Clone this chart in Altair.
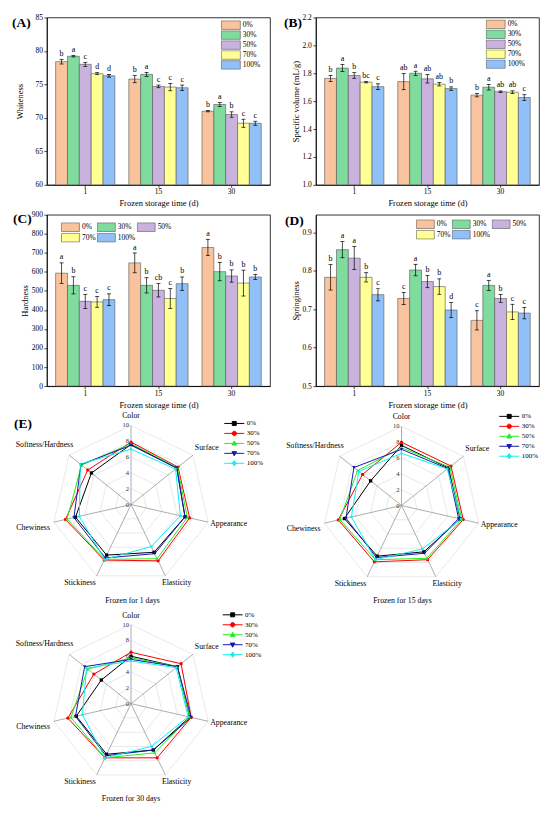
import altair as alt
import pandas as pd

SERIF = "Liberation Serif"

# ---------------- bar chart data ----------------
days = ["1", "15", "30"]
groups = ["0%", "30%", "50%", "70%", "100%"]
bar_colors = ["#F9C39E", "#80DB9F", "#C9B3DE", "#FFFF94", "#90C0F7"]

whiteness_mean = [[78.4, 79.2, 78.0, 76.6, 76.3],
                  [75.8, 76.5, 74.7, 74.6, 74.5],
                  [71.0, 72.0, 70.5, 69.2, 69.2]]
whiteness_err = [[0.35, 0.1, 0.3, 0.15, 0.2],
                 [0.55, 0.3, 0.2, 0.55, 0.4],
                 [0.1, 0.3, 0.4, 0.6, 0.3]]
whiteness_sig = [["b", "a", "c", "d", "d"],
                 ["b", "a", "c", "c", "c"],
                 ["b", "a", "b", "c", "c"]]

volume_mean = [[1.763, 1.837, 1.784, 1.736, 1.704],
               [1.740, 1.800, 1.760, 1.722, 1.690],
               [1.643, 1.700, 1.668, 1.664, 1.626]]
volume_err = [[0.022, 0.025, 0.020, 0.005, 0.020],
              [0.058, 0.015, 0.030, 0.013, 0.012],
              [0.012, 0.020, 0.005, 0.010, 0.020]]
volume_sig = [["b", "a", "b", "bc", "c"],
              ["ab", "a", "ab", "ab", "b"],
              ["b", "a", "ab", "ab", "c"]]

hardness_mean = [[593, 529, 445, 442, 454],
                 [647, 529, 503, 460, 538],
                 [728, 601, 578, 541, 573]]
hardness_err = [[54, 45, 37, 28, 30],
                [52, 40, 35, 52, 35],
                [43, 48, 32, 68, 14]]
hardness_sig = [["a", "b", "c", "c", "c"],
                ["a", "b", "cb", "c", "b"],
                ["a", "b", "b", "b", "b"]]

spring_mean = [[0.783, 0.855, 0.833, 0.783, 0.738],
               [0.728, 0.802, 0.772, 0.759, 0.698],
               [0.671, 0.762, 0.728, 0.693, 0.690]]
spring_err = [[0.033, 0.021, 0.030, 0.012, 0.016],
              [0.016, 0.015, 0.016, 0.020, 0.020],
              [0.025, 0.013, 0.010, 0.020, 0.015]]
spring_sig = [["b", "a", "a", "b", "c"],
              ["c", "a", "b", "b", "d"],
              ["c", "a", "b", "c", "c"]]

# ---------------- radar data ----------------
attrs = ["Color", "Surface", "Appearance", "Elasticity", "Stickiness",
         "Chewiness", "Softness/Hardness"]
# rows: 0%, 30%, 50%, 70%, 100%
radar_day1 = [[7.6, 7.4, 7.0, 6.7, 7.1, 7.2, 6.4],
              [7.9, 7.6, 7.6, 7.9, 7.8, 8.5, 7.0],
              [7.7, 7.5, 7.3, 7.6, 7.7, 8.3, 8.0],
              [7.5, 7.4, 7.0, 6.9, 7.5, 7.4, 8.1],
              [7.0, 7.2, 6.4, 5.9, 7.7, 6.7, 8.2]]
radar_day15 = [[7.6, 7.6, 7.6, 6.5, 7.1, 7.4, 5.0],
               [8.0, 8.0, 8.0, 7.6, 7.9, 8.2, 6.3],
               [7.3, 7.8, 7.8, 7.4, 7.6, 8.0, 7.1],
               [7.1, 7.5, 7.4, 6.7, 7.3, 7.2, 7.7],
               [6.6, 7.4, 7.7, 6.1, 7.6, 6.5, 6.9]]
radar_day30 = [[6.0, 7.5, 7.6, 6.5, 7.1, 7.1, 4.8],
               [6.5, 8.1, 7.8, 7.6, 7.6, 8.2, 6.0],
               [5.8, 7.5, 7.6, 6.9, 7.6, 7.8, 7.0],
               [5.6, 7.5, 7.8, 6.5, 7.3, 7.2, 7.5],
               [5.4, 7.3, 7.4, 6.0, 7.6, 6.3, 7.2]]
radar_colors = ["#000000", "#FF0000", "#22EE22", "#1A1AB0", "#11EEEE"]
radar_shapes = ["square", "circle", "triangle-up", "triangle-down", "diamond"]
legend_paths = [
    "M-1,0H1M-0.2,-0.2H0.2V0.2H-0.2Z",
    "M-1,0H1M0.22,0A0.22,0.22 0 1,1 -0.22,0A0.22,0.22 0 1,1 0.22,0Z",
    "M-1,0H1M0,-0.25L0.23,0.17H-0.23Z",
    "M-1,0H1M0,0.25L0.23,-0.17H-0.23Z",
    "M-1,0H1M0,-0.26L0.2,0L0,0.26L-0.2,0Z",
]
ring_levels = [2, 4, 6, 8, 10]
radar_ticks = [0, 2, 4, 6, 8, 10]
label_align = ["center", "left", "left", "left", "right", "right", "right"]
label_dx = [0, 2, 2, -3.4, -1, -4, 4]
label_dy = [-9, -7, 2, 7.5, 7.5, 6, -10.3]

# ---------------- layout constants ----------------
W = 224
K = 7.94  # px per radar unit


def bar_frame(mean, err, sig):
    rows = []
    for i, d in enumerate(days):
        for j, g in enumerate(groups):
            rows.append(dict(day=d, group=g, mean=mean[i][j],
                             lo=mean[i][j] - err[i][j], hi=mean[i][j] + err[i][j],
                             sig=sig[i][j]))
    return pd.DataFrame(rows)


def bar_legend(lx, ly, columns, sym_w, half_h, clip_h):
    return alt.Legend(title=None, orient="none", legendX=lx, legendY=ly,
                      direction="horizontal" if columns > 1 else "vertical",
                      columns=columns,
                      symbolType=f"M-1,-{half_h}H1V{half_h}H-1Z",
                      symbolSize=sym_w * sym_w, clipHeight=clip_h,
                      symbolStrokeColor="#555555", symbolStrokeWidth=0.6,
                      labelFontSize=7.5, labelFont=SERIF, labelColor="black",
                      labelOffset=2, rowPadding=0, columnPadding=1, padding=0)


def bar_panel(df, domain, ticks, fmt, ytitle, tpad, height, legend, tag, tag_x, tag_y):
    yscale = alt.Scale(domain=domain, nice=False, zero=False)
    yaxis = alt.Axis(values=ticks, format=fmt, title=ytitle, titlePadding=tpad,
                     labelFontSize=7.5, titleFontSize=8.5, tickSize=3, tickWidth=0.7,
                     domainWidth=0.8, labelPadding=1.5, labelOverlap=False)
    base = alt.Chart(df).encode(
        x=alt.X("day:N", sort=days,
                scale=alt.Scale(paddingInner=0.19, paddingOuter=0.12),
                axis=alt.Axis(title="Frozen storage time (d)", labelAngle=0,
                              labelFontSize=7.5, titleFontSize=8.5, tickSize=2.5,
                              tickWidth=0.7, domainWidth=0.8, labelPadding=0.5,
                              titlePadding=3.5)),
        xOffset=alt.XOffset("group:N", sort=groups,
                            scale=alt.Scale(domain=groups, paddingInner=0, paddingOuter=0)),
    )
    bars = base.mark_bar(stroke="#555555", strokeWidth=0.6).encode(
        y=alt.Y("mean:Q", scale=yscale, axis=yaxis),
        y2=alt.datum(domain[0]),
        color=alt.Color("group:N", scale=alt.Scale(domain=groups, range=bar_colors),
                        legend=legend),
    )
    whisker = base.mark_rule(color="black", strokeWidth=0.7).encode(
        y=alt.Y("lo:Q", axis=yaxis), y2="hi:Q")
    cap_hi = base.mark_tick(orient="horizontal", size=4, thickness=0.7,
                            color="black", opacity=1).encode(y=alt.Y("hi:Q", axis=yaxis))
    cap_lo = base.mark_tick(orient="horizontal", size=4, thickness=0.7,
                            color="black", opacity=1).encode(y=alt.Y("lo:Q", axis=yaxis))
    letters = base.mark_text(baseline="bottom", dy=-1.5, fontSize=8, font=SERIF,
                             color="black").encode(y=alt.Y("hi:Q", axis=yaxis),
                                                   text="sig:N")
    tagc = alt.Chart(pd.DataFrame({"t": [tag]})).mark_text(
        align="left", baseline="middle", fontSize=13.5, fontWeight="bold",
        font=SERIF, color="black").encode(x=alt.value(tag_x), y=alt.value(tag_y), text="t:N")
    return alt.layer(bars, whisker, cap_hi, cap_lo, letters, tagc).properties(
        width=W, height=height)


rings_df = pd.DataFrame([{"r": r, "idx": i} for r in ring_levels for i in range(len(attrs))])
spokes_df = pd.DataFrame({"idx": list(range(len(attrs)))})
ticks_df = pd.DataFrame({"t": radar_ticks})
labels_df = pd.DataFrame({"attr": attrs, "idx": list(range(len(attrs))),
                          "align": label_align, "dx": label_dx, "dy": label_dy})


def radar_frame(vals):
    rows = []
    for gi, g in enumerate(groups):
        for ai, a in enumerate(attrs):
            rows.append({"group": g, "idx": ai, "attr": a, "value": vals[gi][ai]})
    return pd.DataFrame(rows)


def radar_panel(vals, xdom, ydom, height, leg_x, leg_y, title, title_x, title_y, tag=None):
    df = radar_frame(vals)
    xs = alt.Scale(domain=xdom, nice=False, zero=False)
    ys = alt.Scale(domain=ydom, nice=False, zero=False)
    ang = "(datum.idx * 2 * PI / 7)"
    X = lambda f: alt.X(f, scale=xs, axis=None)
    Y = lambda f: alt.Y(f, scale=ys, axis=None)

    rings = alt.Chart(rings_df).transform_calculate(
        px=f"datum.r * sin{ang}", py=f"datum.r * cos{ang}"
    ).mark_line(interpolate="linear-closed", color="#DADADA", strokeWidth=0.6).encode(
        x=X("px:Q"), y=Y("py:Q"), detail="r:N", order="idx:Q")
    spokes = alt.Chart(spokes_df).transform_calculate(
        x0="0", y0="0", x1=f"10 * sin{ang}", y1=f"10 * cos{ang}"
    ).mark_rule(color="#777777", strokeWidth=0.6).encode(
        x=X("x0:Q"), y=Y("y0:Q"), x2="x1:Q", y2="y1:Q")
    tick_text = alt.Chart(ticks_df).transform_calculate(x0="0").mark_text(
        align="right", baseline="middle", dx=-2, fontSize=6.5, color="#333333", font=SERIF
    ).encode(x=X("x0:Q"), y=Y("t:Q"), text="t:Q")

    data = alt.Chart(df).transform_calculate(
        px=f"datum.value * sin{ang}", py=f"datum.value * cos{ang}")
    cscale = alt.Scale(domain=groups, range=radar_colors)
    lines = data.mark_line(interpolate="linear-closed", strokeWidth=1).encode(
        x=X("px:Q"), y=Y("py:Q"),
        color=alt.Color("group:N", scale=cscale, legend=None), order="idx:Q")
    points = data.mark_point(filled=True, size=11, opacity=1).encode(
        x=X("px:Q"), y=Y("py:Q"),
        color=alt.Color("group:N", scale=cscale, legend=None),
        shape=alt.Shape("group:N", scale=alt.Scale(domain=groups, range=radar_shapes),
                        legend=None))

    lab = alt.Chart(labels_df).transform_calculate(
        lx=f"10 * sin{ang} + datum.dx / {K}", ly=f"10 * cos{ang} - datum.dy / {K}")
    label_layers = []
    for al in ["left", "center", "right"]:
        label_layers.append(
            lab.transform_filter(f"datum.align == '{al}'").mark_text(
                align=al, baseline="middle", fontSize=7.8, font=SERIF, color="black"
            ).encode(x=X("lx:Q"), y=Y("ly:Q"), text="attr:N"))

    leg = alt.Legend(title=None, orient="none", legendX=leg_x, legendY=leg_y,
                     direction="vertical", symbolSize=400, clipHeight=9.2,
                     symbolStrokeWidth=1, labelFontSize=7, labelFont=SERIF,
                     labelColor="black", labelOffset=2, rowPadding=0, padding=0)
    legend_layer = alt.Chart(df).transform_filter("false").mark_point(
        filled=True, opacity=1).encode(
        fill=alt.Fill("group:N", scale=alt.Scale(domain=groups, range=radar_colors), legend=leg),
        stroke=alt.Stroke("group:N", scale=alt.Scale(domain=groups, range=radar_colors), legend=leg),
        shape=alt.Shape("group:N", scale=alt.Scale(domain=groups, range=legend_paths), legend=leg))

    layers = [rings, spokes, tick_text, lines, points] + label_layers + [legend_layer]
    layers.append(alt.Chart(pd.DataFrame({"t": [title]})).mark_text(
        align="center", baseline="middle", fontSize=7.8, font=SERIF, color="black"
    ).encode(x=alt.value(title_x), y=alt.value(title_y), text="t:N"))
    if tag is not None:
        layers.append(alt.Chart(pd.DataFrame({"t": [tag]})).mark_text(
            align="left", baseline="middle", fontSize=13.5, fontWeight="bold",
            font=SERIF, color="black").encode(x=alt.value(-33), y=alt.value(8.5), text="t:N"))
    return alt.layer(*layers).resolve_scale(
        shape="independent", fill="independent", stroke="independent"
    ).properties(width=W, height=height, view=alt.ViewBackground(strokeOpacity=0))


panel_a = bar_panel(bar_frame(whiteness_mean, whiteness_err, whiteness_sig),
                    [60, 85], [60, 65, 70, 75, 80, 85], "d", "Whiteness", 10, 168,
                    bar_legend(174.7, 2.8, 1, 19, 0.45, 9.8), "(A)", -35, 6)
panel_b = bar_panel(bar_frame(volume_mean, volume_err, volume_sig),
                    [1.0, 2.2], [1.0, 1.2, 1.4, 1.6, 1.8, 2.0, 2.2], ".1f",
                    "Specific volume (mL/g)", 1.5, 168,
                    bar_legend(170.5, 2.1, 1, 19, 0.45, 9.5), "(B)", -32, 6)
panel_c = bar_panel(bar_frame(hardness_mean, hardness_err, hardness_sig),
                    [0, 900], list(range(0, 901, 100)), "d", "Hardness", 1.5, 172,
                    bar_legend(14.2, 7, 3, 18, 0.48, 10.1), "(C)", -34, 4)
panel_d = bar_panel(bar_frame(spring_mean, spring_err, spring_sig),
                    [0.5, 0.946], [0.5, 0.6, 0.7, 0.8, 0.9], ".1f", "Springiness", 1.5, 172,
                    bar_legend(100.4, 4, 3, 18, 0.48, 10.1), "(D)", -31, 6)

radar_1 = radar_panel(radar_day1, [-10.64, 17.57], [-9.84, 11.2], 167, 177.6, 2.9,
                      "Frozen for 1 days", 86, 185.3, tag="(E)")
radar_2 = radar_panel(radar_day15, [-10.83, 17.38], [-9.71, 11.32], 167, 183.6, -4.2,
                      "Frozen for 15 days", 87, 185.3)
radar_3 = radar_panel(radar_day30, [-10.64, 17.57], [-11.11, 11.56], 180, 176, -2,
                      "Frozen for 30 days", 84.5, 187.5)

chart = alt.concat(
    panel_a, panel_b, panel_c, panel_d, radar_1, radar_2, radar_3,
    columns=2, spacing={"row": 30, "column": 46}, bounds="flush"
).resolve_scale(
    color="independent", shape="independent", fill="independent",
    stroke="independent", xOffset="independent"
).properties(
    padding={"left": 3, "top": 3, "right": 2, "bottom": 2}
).configure(
    font=SERIF
).configure_view(
    stroke="black", strokeWidth=0.8
).configure_axis(
    grid=False, labelFont=SERIF, titleFont=SERIF, domainColor="black",
    tickColor="black", labelColor="black", titleColor="black", titleFontWeight="normal"
).configure_legend(
    labelFont=SERIF
)

chart.save("out.html", embed_options={"renderer": "svg", "actions": False})
